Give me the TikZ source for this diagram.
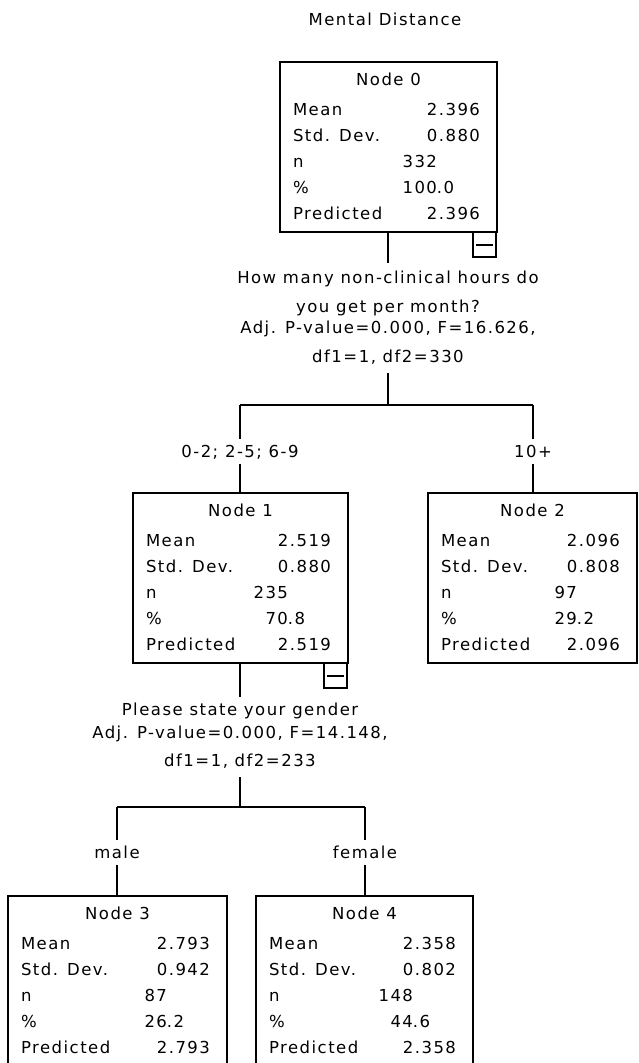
\documentclass[tikz,border=0pt]{standalone}
\usepackage{fontspec}
\setmainfont{DejaVu Sans}[LetterSpace=9]
\usetikzlibrary{calc}
\newcommand{\statnode}[9]{%
  \node[statbox, minimum width={(#4-#2)*1pt}, anchor=north west] (#1) at (#2,#3) {};
  \node[txt, anchor=base] (#1-title) at ($(#1.north)+(0,23)$) {#5};
  \node[txt, anchor=base west] (#1-la) at ($(#1.north west)+(13,53)$) {Mean};
  \node[txt, anchor=base west] (#1-lb) at ($(#1.north west)+(13,79)$) {Std. Dev.};
  \node[txt, anchor=base west] (#1-lc) at ($(#1.north west)+(13,105)$) {n};
  \node[txt, anchor=base west] (#1-ld) at ($(#1.north west)+(13,131)$) {\%};
  \node[txt, anchor=base west] (#1-le) at ($(#1.north west)+(13,157)$) {Predicted};
  \node[txt, anchor=base east] (#1-va) at ($(#1.north east)+(-17,53)$) {#6};
  \node[txt, anchor=base east] (#1-vb) at ($(#1.north east)+(-17,79)$) {#7};
  \node[txt, anchor=base east] (#1-vc) at ($(#1.north east)+(-60,105)$) {#8};
  \node[txt, anchor=base east] (#1-vd) at ($(#1.north east)+(-60,131)$) {#9};
  \node[txt, anchor=base east] (#1-ve) at ($(#1.north east)+(-17,157)$) {#6};
}
\newcommand{\minusbox}[1]{%
  \node[minusbx, anchor=north east] (#1-m) at ($(#1.south east)+(-1,0)$) {};
  \draw[line width=2pt] ($(#1-m.center)+(-8.5,0)$) -- ($(#1-m.center)+(8.5,0)$);
}
\begin{document}
\begin{tikzpicture}[x=1pt,y=-1pt,
  txt/.style={inner sep=0pt, outer sep=0pt, font=\fontsize{16.5pt}{19pt}\selectfont},
  brlabel/.style={txt, text height=12pt, text depth=0pt, minimum height=25pt},
  statbox/.style={draw, line width=1.6pt, minimum height=170pt, inner sep=0pt, outer sep=0pt},
  minusbx/.style={draw, line width=1.6pt, minimum width=23pt, minimum height=25pt, inner sep=0pt, outer sep=0pt},
  conn/.style={line width=1.4pt}]
\useasboundingbox (0,0) rectangle (638,1063);
\clip (0,0) rectangle (638,1063);

\node[txt, anchor=base] (title) at (385,25) {Mental Distance};

% Node 0
\statnode{n0}{280}{62}{497}{Node 0}{2.396}{0.880}{332}{100\rlap{.0}}
\minusbox{n0}

% question 0
\coordinate (q0in) at (388,263);
\coordinate (q0out) at (388,373);
\coordinate (j0) at (388,405);
\coordinate (j0L) at (240,405);
\coordinate (j0R) at (533,405);
\node[txt, anchor=base] (q0a) at (388,283) {How many non-clinical hours do};
\node[txt, anchor=base] (q0b) at (388,312) {you get per month?};
\node[txt, anchor=base] (q0c) at (388,333) {Adj. P-value=0.000, F=16.626,};
\node[txt, anchor=base] (q0d) at (388,362) {df1=1, df2=330};

\node[brlabel, anchor=base] (l1) at (240,457) {0-2; 2-5; 6-9};
\node[brlabel, anchor=base] (l2) at (533,457) {10+};

% Node 1 and Node 2
\statnode{n1}{133}{493}{348}{Node 1}{2.519}{0.880}{235}{70\rlap{.8}}
\minusbox{n1}
\statnode{n2}{428}{493}{637}{Node 2}{2.096}{0.808}{97}{29\rlap{.2}}

\draw[conn] (n0.south -| q0in) -- (q0in);
\draw[conn] (q0out) -- (j0);
\draw[conn] (j0L) -- (j0R);
\draw[conn] (j0L) -- (l1.north);
\draw[conn] (l1.south) -- (l1.south |- n1.north);
\draw[conn] (j0R) -- (l2.north);
\draw[conn] (l2.south) -- (l2.south |- n2.north);

% question 1
\coordinate (q1in) at (240,697);
\coordinate (q1out) at (240,777);
\coordinate (j1) at (240,807);
\coordinate (j1L) at (117,807);
\coordinate (j1R) at (365,807);
\node[txt, anchor=base] (q1a) at (240,715) {Please state your gender};
\node[txt, anchor=base] (q1b) at (240,738) {Adj. P-value=0.000, F=14.148,};
\node[txt, anchor=base] (q1c) at (240,766) {df1=1, df2=233};

\node[brlabel, anchor=base] (l3) at (117,858) {male};
\node[brlabel, anchor=base] (l4) at (365,858) {female};

% Node 3 and Node 4
\statnode{n3}{8}{896}{227}{Node 3}{2.793}{0.942}{87}{26\rlap{.2}}
\statnode{n4}{256}{896}{473}{Node 4}{2.358}{0.802}{148}{44\rlap{.6}}

\draw[conn] (n1.south -| q1in) -- (q1in);
\draw[conn] (q1out) -- (j1);
\draw[conn] (j1L) -- (j1R);
\draw[conn] (j1L) -- (l3.north);
\draw[conn] (l3.south) -- (l3.south |- n3.north);
\draw[conn] (j1R) -- (l4.north);
\draw[conn] (l4.south) -- (l4.south |- n4.north);
\end{tikzpicture}
\end{document}
